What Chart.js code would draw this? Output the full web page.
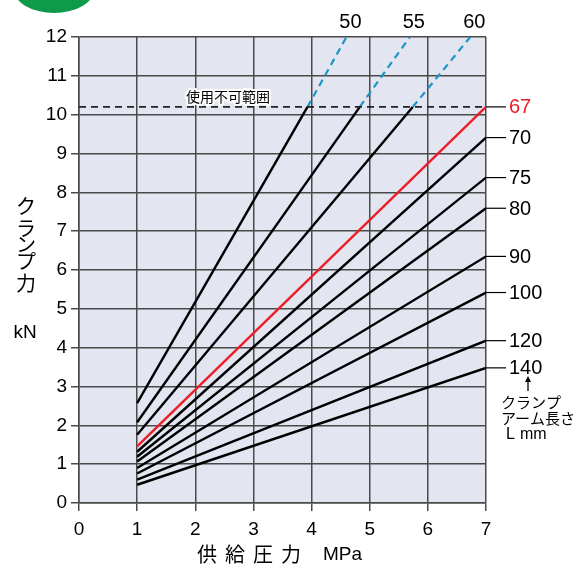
<!DOCTYPE html>
<html>
<head>
<meta charset="utf-8">
<script src="https://cdn.jsdelivr.net/npm/chart.js@4"></script>
<style>
  body { margin: 0; background: #fff; }
  #wrap { width: 584px; height: 570px; }
</style>
</head>
<body>
<div id="wrap"><canvas id="clampChart" width="584" height="570"></canvas></div>
<script>
// clamp arm length L (mm) for each line
const armLengths = ['50', '55', '60', '67', '70', '75', '80', '90', '100', '120', '140'];
// clamp force (kN) at 1 MPa
const forceAt1 = [2.57, 2.08, 1.76, 1.46, 1.32, 1.19, 1.07, 0.90, 0.76, 0.60, 0.47];
// where each solid line ends (pressure MPa, force kN)
const endPressure = [3.93, 4.83, 5.74, 7, 7, 7, 7, 7, 7, 7, 7];
const endForce = [10.2, 10.2, 10.2, 10.2, 9.41, 8.38, 7.59, 6.35, 5.42, 4.18, 3.48];
// blue dashed continuation into the unusable range (pressure at 12 kN)
const dashedTop = [4.6, 5.69, 6.73];
const limitForce = 10.2;

const xTicks = [0, 1, 2, 3, 4, 5, 6, 7];
const yTicks = [0, 1, 2, 3, 4, 5, 6, 7, 8, 9, 10, 11, 12];

const RED = '#ee1c25';
const BLUE = '#1b96c8';
const FONT = '"Liberation Sans", Arial, sans-serif';
const JP = '"Noto Sans CJK JP", sans-serif';

const datasets = [];
// limit line
datasets.push({
    data: [{ x: 0, y: limitForce }, { x: 7, y: limitForce }],
    borderColor: '#222', borderWidth: 1.6, borderDash: [7, 5], pointRadius: 0
});
dashedTop.forEach((p, i) => {
    datasets.push({
        data: [{ x: endPressure[i], y: limitForce }, { x: p, y: 12 }],
        borderColor: BLUE, borderWidth: 2.2, borderDash: [7, 5], pointRadius: 0
    });
});
armLengths.forEach((L, i) => {
    datasets.push({
        label: L,
        data: [{ x: 1, y: forceAt1[i] }, { x: endPressure[i], y: endForce[i] }],
        borderColor: L === '67' ? RED : '#000',
        borderWidth: 2.4,
        pointRadius: 0
    });
});

// background, header blob, labels around the plot
const decorations = {
    id: 'decorations',
    beforeDraw(chart) {
        const { ctx, chartArea: a } = chart;
        ctx.save();
        ctx.fillStyle = '#e3e5f1';
        ctx.fillRect(a.left, a.top, a.right - a.left, a.bottom - a.top);
        // green header shape (cut at top)
        ctx.fillStyle = '#0e9a4a';
        ctx.beginPath();
        ctx.ellipse(54, -12, 41, 25, 0, 0, Math.PI * 2);
        ctx.fill();
        ctx.restore();
    },
    afterDraw(chart) {
        const { ctx, scales: { x, y } } = chart;
        ctx.save();
        ctx.textBaseline = 'middle';

        // "unusable range" note
        ctx.font = '14px ' + JP;
        ctx.textAlign = 'center';
        ctx.lineWidth = 4;
        ctx.strokeStyle = '#fff';
        ctx.lineJoin = 'round';
        ctx.strokeText('使用不可範囲', 228, 97);
        ctx.fillStyle = '#000';
        ctx.fillText('使用不可範囲', 228, 97);

        // top labels for capped lines
        ctx.font = '20px ' + FONT;
        dashedTop.forEach((p, i) => {
            ctx.fillText(armLengths[i], x.getPixelForValue(p) + 4, 22);
        });

        // right labels with leader lines
        ctx.textAlign = 'left';
        armLengths.forEach((L, i) => {
            if (endPressure[i] !== 7) return;
            const py = y.getPixelForValue(endForce[i]);
            ctx.strokeStyle = '#000';
            ctx.lineWidth = 1.2;
            ctx.beginPath();
            ctx.moveTo(x.right, py);
            ctx.lineTo(x.right + 20, py);
            ctx.stroke();
            ctx.fillStyle = L === '67' ? RED : '#000';
            ctx.font = '20px ' + FONT;
            ctx.fillText(L, x.right + 23, py + 1);
        });

        // arrow + arm length caption
        ctx.fillStyle = '#000';
        ctx.strokeStyle = '#000';
        ctx.lineWidth = 1.3;
        ctx.beginPath();
        ctx.moveTo(528, 379);
        ctx.lineTo(528, 391);
        ctx.stroke();
        ctx.beginPath();
        ctx.moveTo(528, 376);
        ctx.lineTo(525, 382);
        ctx.lineTo(531, 382);
        ctx.closePath();
        ctx.fill();
        ctx.font = '15px ' + JP;
        ctx.fillText('クランプ', 501, 402);
        ctx.fillText('アーム長さ', 501, 418);
        ctx.font = '16px ' + FONT;
        ctx.fillText('L', 506, 435);
        ctx.fillText('mm', 520, 435);

        // y axis title, vertical
        ctx.textAlign = 'center';
        ctx.font = '20px ' + JP;
        const ychars = ['ク', 'ラ', 'ン', 'プ', '力'];
        const ypos = [206, 228, 244, 261, 283];
        ychars.forEach((c, i) => ctx.fillText(c, 26, ypos[i]));
        ctx.font = '19px ' + FONT;
        ctx.fillText('kN', 25, 333);

        // x axis title
        ctx.font = '20px ' + JP;
        ['供', '給', '圧', '力'].forEach((c, i) => ctx.fillText(c, 207 + i * 28, 554));
        ctx.font = '19px ' + FONT;
        ctx.textAlign = 'left';
        ctx.fillText('MPa', 323, 555);
        ctx.restore();
    }
};

const gridStyle = {
    color: '#4a4a4a',
    lineWidth: 1.5,
    tickLength: 8
};

new Chart(document.getElementById('clampChart'), {
    type: 'line',
    data: { datasets },
    options: {
        responsive: false,
        animation: false,
        layout: { padding: { top: 37, right: 98, left: 0, bottom: 0 } },
        plugins: { legend: { display: false }, tooltip: { enabled: false } },
        scales: {
            x: {
                type: 'linear',
                min: 0, max: 7,
                afterFit: s => { s.height = 67; },
                afterBuildTicks: s => { s.ticks = xTicks.map(v => ({ value: v })); },
                grid: gridStyle,
                border: { color: '#4a4a4a', width: 1.5 },
                ticks: { color: '#000', font: { family: FONT, size: 19 }, padding: 7 }
            },
            y: {
                type: 'linear',
                min: 0, max: 12,
                afterFit: s => { s.width = 79; },
                afterBuildTicks: s => { s.ticks = yTicks.map(v => ({ value: v })); },
                grid: gridStyle,
                border: { color: '#4a4a4a', width: 1.5 },
                ticks: { color: '#000', font: { family: FONT, size: 19 }, padding: 4 }
            }
        }
    },
    plugins: [decorations]
});
</script>
</body>
</html>
